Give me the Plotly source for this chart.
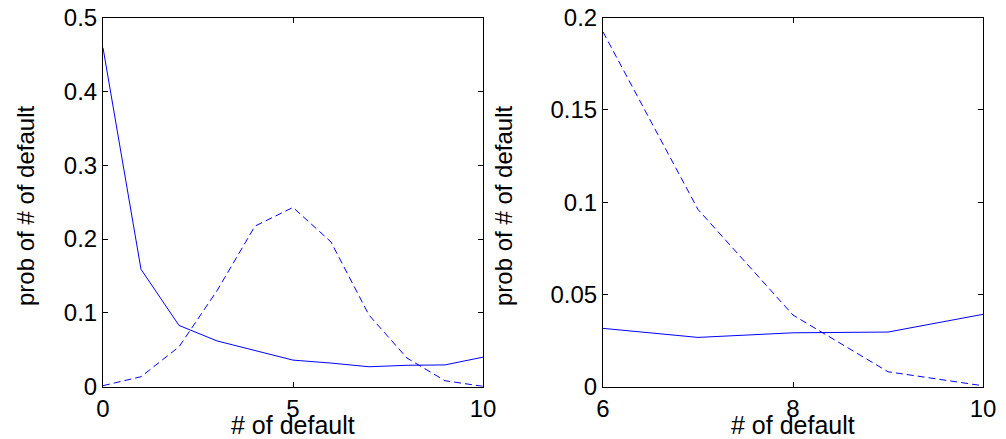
import plotly.graph_objects as go

# ---- data ----
x_left = [0, 1, 2, 3, 4, 5, 6, 7, 8, 9, 10]
solid_left = [0.459, 0.159, 0.083, 0.062, 0.049, 0.036, 0.032, 0.027, 0.029, 0.0295, 0.040]
dashed_left = [0.0014, 0.0135, 0.054, 0.130, 0.2175, 0.2428, 0.196, 0.097, 0.0388, 0.0081, 0.0005]

x_right = [6, 7, 8, 9, 10]
solid_right = [0.0316, 0.0267, 0.0292, 0.0296, 0.0392]
dashed_right = [0.1922, 0.096, 0.0388, 0.0081, 0.0005]

xticks_left = [0, 5, 10]
yticks_left = [0, 0.1, 0.2, 0.3, 0.4, 0.5]
ytick_text_left = ["0", "0.1", "0.2", "0.3", "0.4", "0.5"]
xticks_right = [6, 8, 10]
yticks_right = [0, 0.05, 0.1, 0.15, 0.2]
ytick_text_right = ["0", "0.05", "0.1", "0.15", "0.2"]

x_title = "# of default"
y_title = "prob of # of default"

W, H = 1006, 439
FONT = "Liberation Sans, Arial, Helvetica, sans-serif"
BLUE = "rgb(0,0,255)"


def px_x(p):
    return p / W


def px_y(p):
    return 1 - p / H


fig = go.Figure()
fig.add_trace(go.Scatter(x=x_left, y=solid_left, mode="lines",
                         line=dict(color=BLUE, width=1), xaxis="x", yaxis="y"))
fig.add_trace(go.Scatter(x=x_left, y=dashed_left, mode="lines",
                         line=dict(color=BLUE, width=1, dash="7px,4px"), xaxis="x", yaxis="y"))
fig.add_trace(go.Scatter(x=x_right, y=solid_right, mode="lines",
                         line=dict(color=BLUE, width=1), xaxis="x2", yaxis="y2"))
fig.add_trace(go.Scatter(x=x_right, y=dashed_right, mode="lines",
                         line=dict(color=BLUE, width=1, dash="7px,4px"), xaxis="x2", yaxis="y2"))

ydom = [px_y(386.7), px_y(17.5)]
axis_common = dict(showline=True, linecolor="black", linewidth=1, mirror="ticks",
                   ticks="inside", ticklen=5, tickwidth=1, tickcolor="black",
                   showgrid=False, zeroline=False, automargin=False,
                   ticklabeloverflow="allow",
                   tickfont=dict(family=FONT, size=24, color="black"))

fig.update_layout(
    template="none",
    width=W, height=H,
    margin=dict(l=0, r=0, t=0, b=0, autoexpand=False),
    paper_bgcolor="white", plot_bgcolor="white",
    showlegend=False,
    xaxis=dict(domain=[px_x(103), px_x(483)], range=[0, 10], tickvals=xticks_left,
               anchor="y", **axis_common),
    yaxis=dict(domain=ydom, range=[0, 0.5], tickvals=yticks_left, ticktext=ytick_text_left,
               anchor="x", **axis_common),
    xaxis2=dict(domain=[px_x(603), px_x(983)], range=[6, 10], tickvals=xticks_right,
                anchor="y2", **axis_common),
    yaxis2=dict(domain=ydom, range=[0, 0.2], tickvals=yticks_right, ticktext=ytick_text_right,
                anchor="x2", **axis_common),
)

title_font = dict(family=FONT, size=25, color="black")
ytitle_font = dict(family=FONT, size=24, color="black")
for xc in [293, 793]:
    fig.add_annotation(text=x_title, xref="paper", yref="paper",
                       x=px_x(xc), y=px_y(425), xanchor="center", yanchor="middle",
                       showarrow=False, font=title_font)
for xc in [25, 503]:
    fig.add_annotation(text=y_title, xref="paper", yref="paper",
                       x=px_x(xc), y=px_y(206), xanchor="center", yanchor="middle",
                       textangle=-90, showarrow=False, font=ytitle_font)

# remove the default 8px page margin so the figure fills the window exactly
fig.write_html("out.html", config={"displayModeBar": False},
               post_script="document.body.style.margin='0';")
